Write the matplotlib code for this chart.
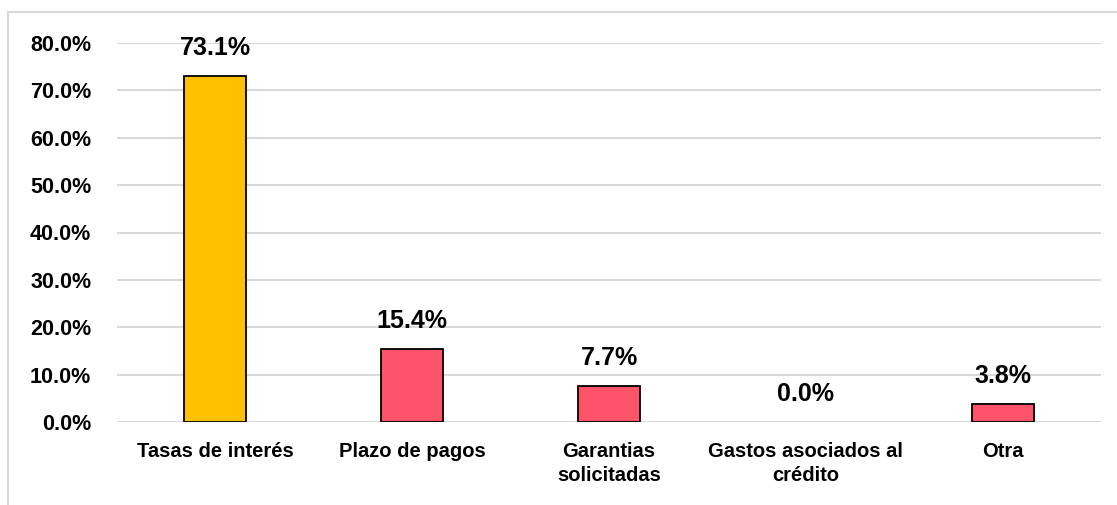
import matplotlib
matplotlib.use("Agg")
import matplotlib.pyplot as plt
from matplotlib.patches import Rectangle

categories = ["Tasas de interés", "Plazo de pagos", "Garantias\nsolicitadas",
              "Gastos asociados al\ncrédito", "Otra"]
values = [73.1, 15.4, 7.7, 0.0, 3.8]
colors = ["#FFC000", "#FF5369", "#FF5369", "#FF5369", "#FF5369"]
yticks = [0, 10, 20, 30, 40, 50, 60, 70, 80]

plt.rcParams['font.family'] = ['Liberation Sans', 'DejaVu Sans']

W, H = 1117, 505
fig = plt.figure(figsize=(W / 100, H / 100), dpi=100)
ax = fig.add_axes([117 / W, 1 - 422 / H, (1101 - 117) / W, (422 - 43) / H])

x = range(len(categories))
bars = ax.bar(x, values, width=0.315, color=colors, edgecolor="black", linewidth=1.3, zorder=3)
for b, v in zip(bars, values):
    if v == 0:
        b.set_linewidth(0)
ax.set_xlim(-0.5, len(categories) - 0.5)
ax.set_ylim(0, 80)
ax.set_yticks(yticks)
ax.set_yticklabels([f"{t:.1f}%" for t in yticks], fontsize=15.5, fontweight="bold")
ax.set_xticks(list(x))
ax.set_xticklabels(categories, fontsize=14.5, fontweight="bold", linespacing=1.35, va="top")
ax.tick_params(axis="both", length=0)
ax.tick_params(axis="y", pad=18.5)
ax.tick_params(axis="x", pad=14.5)
ax.grid(axis="y", color="#D9D9D9", linewidth=1.5, zorder=0)
for s in ax.spines.values():
    s.set_visible(False)

for xi, v in zip(x, values):
    ax.annotate(f"{v:.1f}%", (xi, v), xytext=(0, 20), textcoords="offset points",
                ha="center", va="center", fontsize=18, fontweight="bold")

fig.patches.append(Rectangle((8 / W, -0.1), 1.2, 1 - 12 / H + 0.1, transform=fig.transFigure,
                             fill=False, edgecolor="#D9D9D9", linewidth=1.5))

fig.savefig("out.png", dpi=100)
